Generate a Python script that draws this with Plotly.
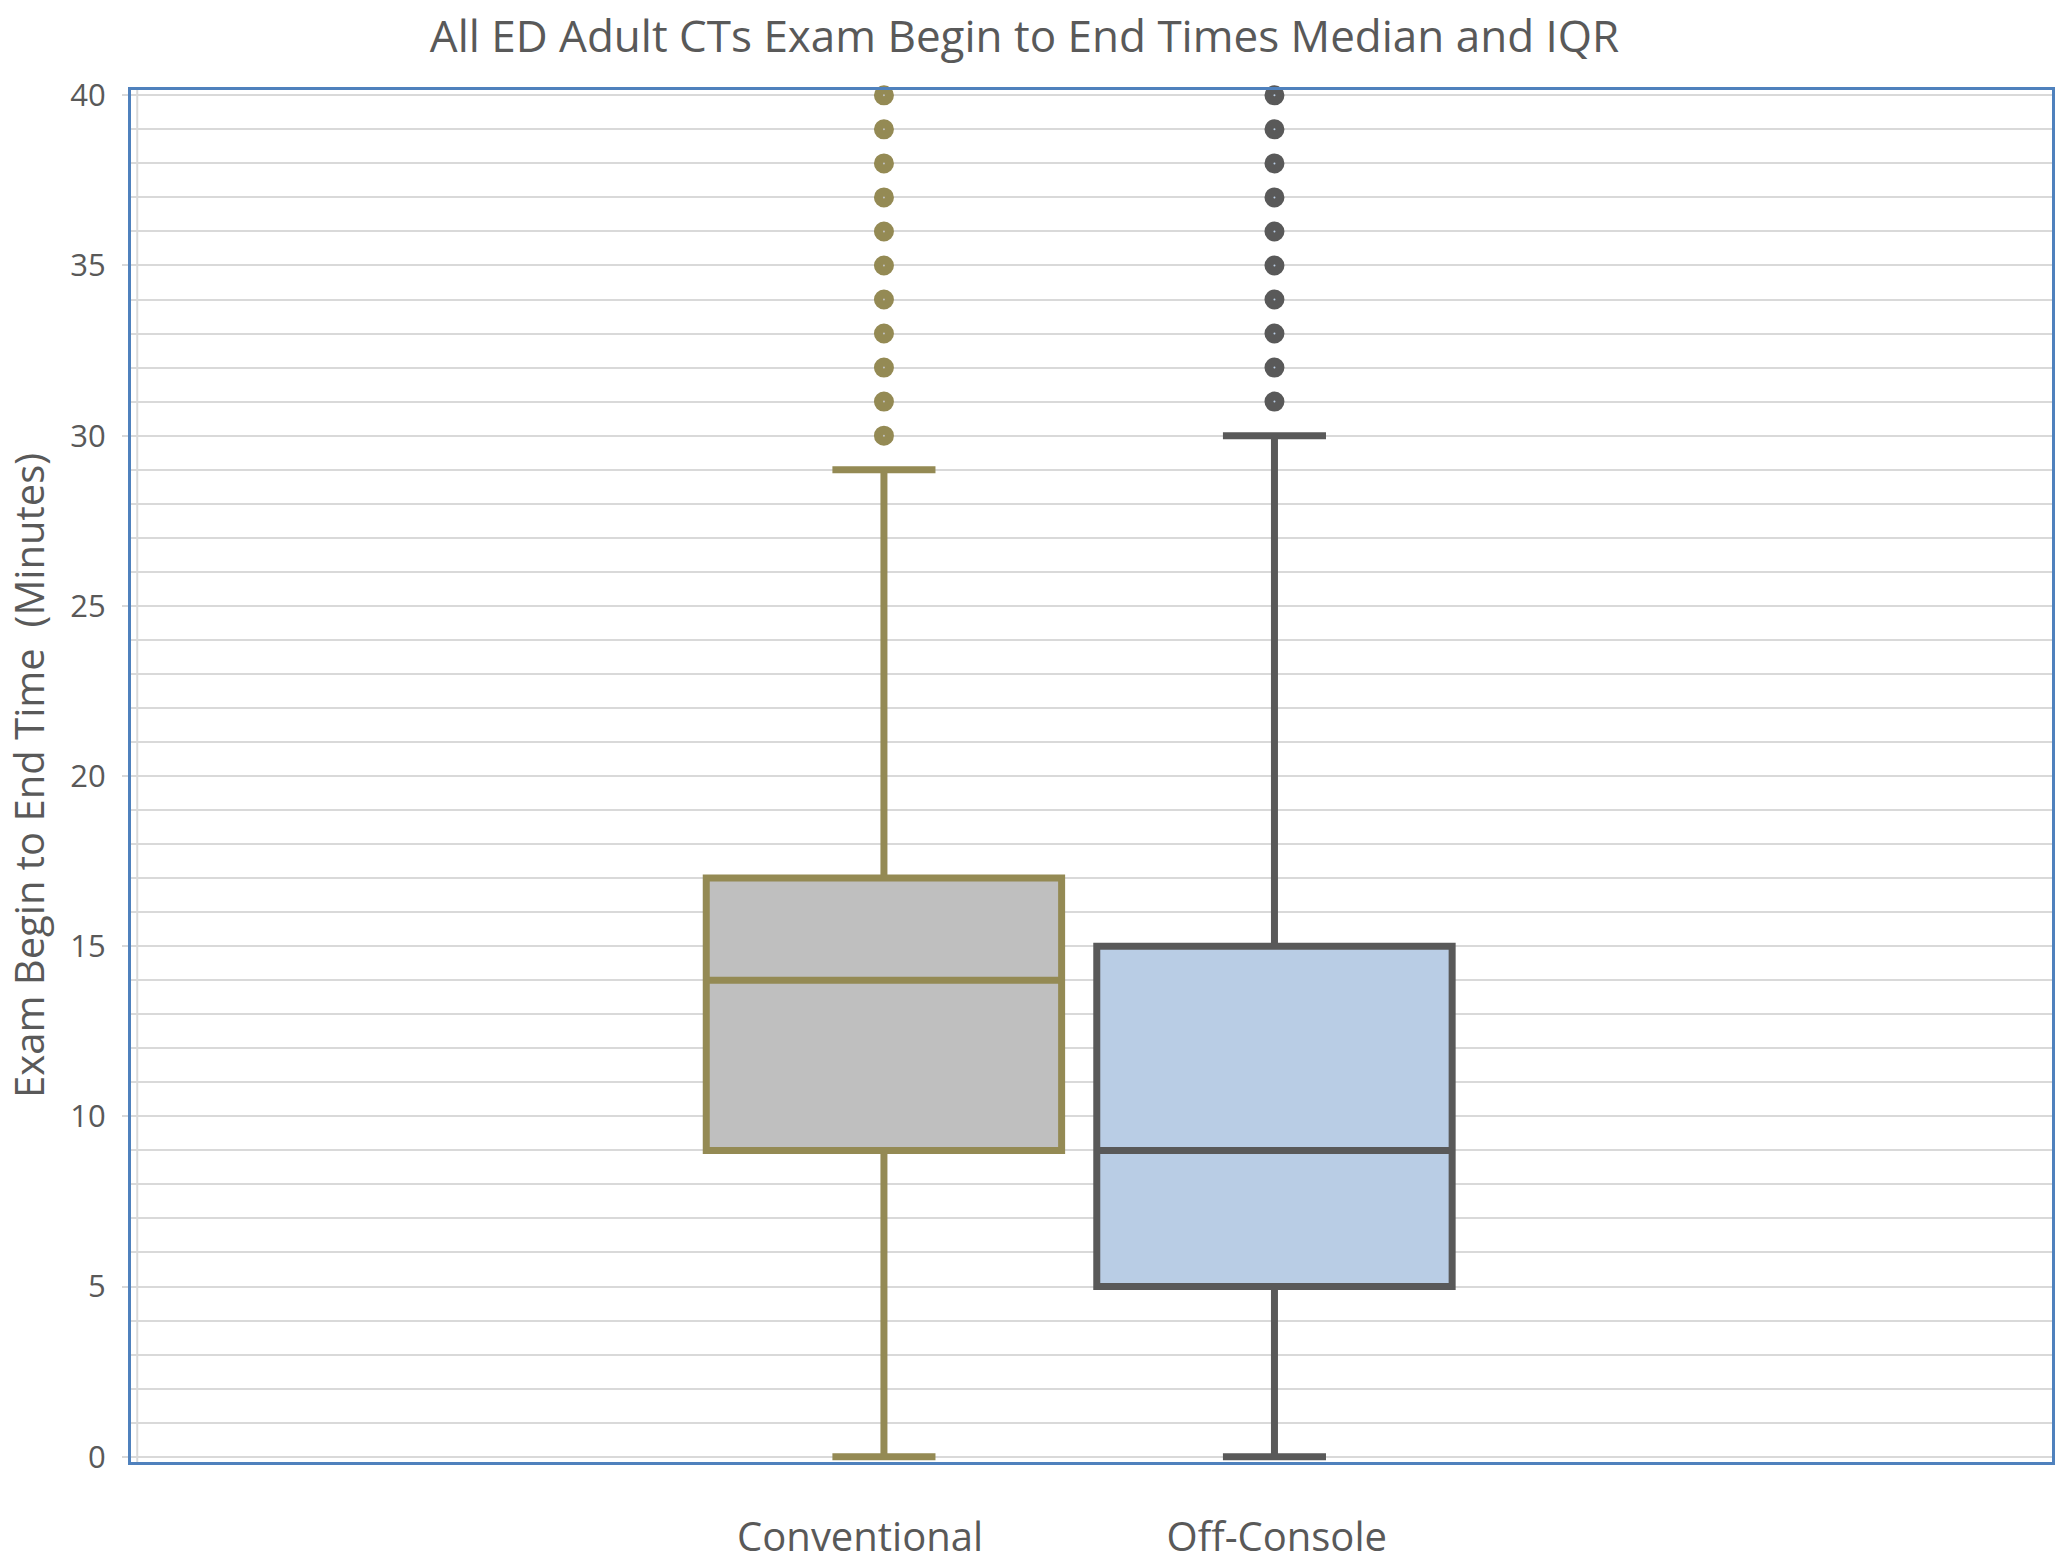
import plotly.graph_objects as go

# ---- data ----
categories = ["Conventional", "Off-Console"]
q1 = [9, 5]
median = [14, 9]
q3 = [17, 15]
lower_whisker = [0, 0]
upper_whisker = [29, 30]
conv_outliers = [30, 31, 32, 33, 34, 35, 36, 37, 38, 39, 40]
off_outliers = [31, 32, 33, 34, 35, 36, 37, 38, 39, 40]
y_ticks = [0, 5, 10, 15, 20, 25, 30, 35, 40]

title_text = "All ED Adult CTs Exam Begin to End Times Median and IQR"
y_title = "Exam Begin to End Time&nbsp;&nbsp;(Minutes)"

# ---- style ----
line_colors = ["#948A54", "#595959"]
fill_colors = ["#BFBFBF", "#B9CDE5"]
text_color = "#595959"
font_family = "Open Sans, Noto Sans, sans-serif"
outliers = [conv_outliers, off_outliers]
label_pos = [-0.061, 1.006]

fig = go.Figure()
for i, cat in enumerate(categories):
    fig.add_trace(go.Box(
        x=[i],
        q1=[q1[i]], median=[median[i]], q3=[q3[i]],
        lowerfence=[lower_whisker[i]], upperfence=[upper_whisker[i]],
        name=cat,
        width=0.91,
        whiskerwidth=0.29,
        fillcolor=fill_colors[i],
        line=dict(color=line_colors[i], width=7),
        boxpoints=False,
        showlegend=False,
    ))
    fig.add_trace(go.Scatter(
        x=[i] * len(outliers[i]), y=outliers[i],
        mode="markers",
        marker=dict(symbol="circle", size=11, color=fill_colors[i],
                    line=dict(color=line_colors[i], width=9)),
        cliponaxis=False,
        showlegend=False,
        hoverinfo="y",
    ))

# Excel-style grey vertical axis line just inside the blue border
fig.add_shape(type="line", xref="x", yref="y", x0=-1.912, x1=-1.912,
              y0=-0.156, y1=40.156, line=dict(color="#D9D9D9", width=2), layer="below")

fig.update_layout(
    width=2055, height=1563,
    margin=dict(l=131, r=3, t=90, b=101, autoexpand=False),
    paper_bgcolor="white", plot_bgcolor="white",
    font=dict(family=font_family, color=text_color),
    title=dict(text=title_text, x=1024.5 / 2055, xanchor="center",
               y=1 - 37 / 1563, yanchor="middle",
               font=dict(size=44, color=text_color, family=font_family)),
    xaxis=dict(
        automargin=False,
        range=[-1.928, 2.991],
        tickmode="array", tickvals=label_pos, ticktext=categories,
        tickfont=dict(size=40, color=text_color),
        ticks="", showgrid=False, zeroline=False,
        showline=True, linecolor="#4F81BD", linewidth=3, mirror=True,
        ticklabelstandoff=38,
    ),
    yaxis=dict(
        automargin=False,
        range=[-0.156, 40.156],
        tickmode="array", tickvals=y_ticks,
        tickfont=dict(size=31, color=text_color),
        ticks="outside", ticklen=6, tickcolor="#D9D9D9", tickwidth=2,
        ticklabelstandoff=10,
        showgrid=True, gridcolor="#D9D9D9", gridwidth=2,
        minor=dict(dtick=1, showgrid=True, gridcolor="#D9D9D9", gridwidth=2, ticks=""),
        zeroline=False,
        showline=True, linecolor="#4F81BD", linewidth=3, mirror=True,
    ),
    annotations=[dict(
        text=y_title, textangle=-90, xref="paper", yref="paper",
        x=(28 - 131) / 1921, y=0.5, xanchor="center", yanchor="middle",
        showarrow=False, font=dict(size=40, color=text_color, family=font_family),
    )],
)

fig.write_html(
    "out.html",
    config={"displayModeBar": False},
    post_script="document.body.style.margin='0';document.body.style.overflow='hidden';",
)
